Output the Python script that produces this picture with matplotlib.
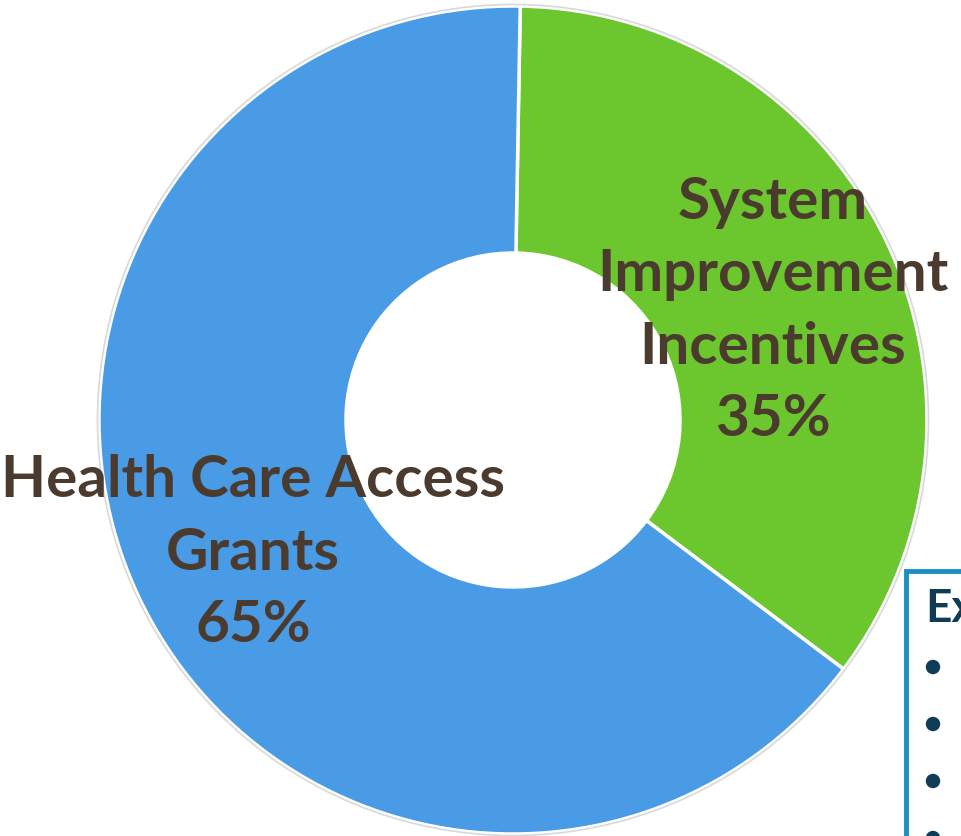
import matplotlib
matplotlib.use('Agg')
import matplotlib.pyplot as plt
from matplotlib.patches import Circle, Rectangle

# data
labels = ['System\nImprovement\nIncentives', 'Health Care Access\nGrants']
shares = [35, 65]
colors = ['#6cc72e', '#4a9be6']
label_pos = [(773, 836 - 311), (253, 836 - 553)]

plt.rcParams['font.family'] = ['Lato', 'DejaVu Sans']

W, H = 961, 836
fig = plt.figure(figsize=(W / 100, H / 100), dpi=100)
ax = fig.add_axes([0, 0, 1, 1])

cx, cy, r = 513, 836 - 420, 414
ax.pie(shares, colors=colors, startangle=89, counterclock=False,
       center=(cx, cy), radius=r, frame=True,
       wedgeprops=dict(width=r - 167, edgecolor='white', linewidth=2.5))
ax.add_patch(Circle((cx, cy), r + 1.5, fill=False, edgecolor='#d9d9d9', linewidth=1.2))
ax.set_xlim(0, W)
ax.set_ylim(0, H)
ax.set_aspect('equal')
ax.axis('off')

for lab, s, (x, y) in zip(labels, shares, label_pos):
    ax.text(x, y, f'{lab}\n{s}%', ha='center', va='center', fontsize=42,
            fontweight='bold', color='#4b3b2f', linespacing=1.45)

# side box, cut off by the right and bottom edges
ax.add_patch(Rectangle((906, 836 - 880), 120, 836 - 571 + 44, facecolor='white',
                       edgecolor='#1a8fc3', linewidth=3.5))
ax.text(925, 836 - 609, 'Ex', ha='left', va='center', fontsize=33,
        fontweight='bold', color='#0e3c56')
for i in range(4):
    ax.add_patch(Circle((933, 836 - 667 - i * 57), 6.5, color='#0e3c56'))

fig.savefig('out.png', dpi=100)
